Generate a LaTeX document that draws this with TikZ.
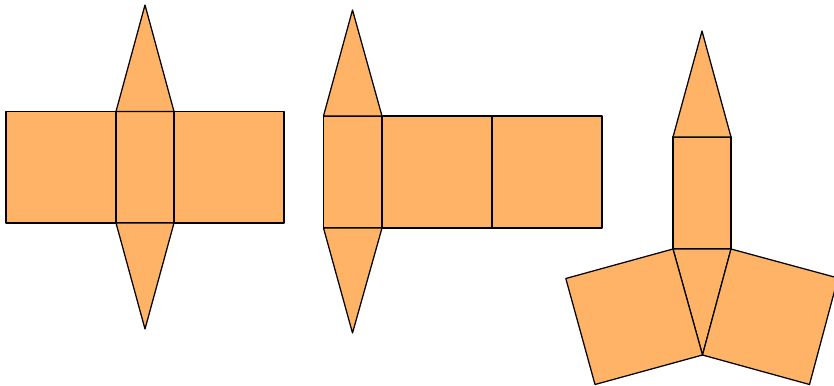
\documentclass[tikz,border=0pt]{standalone}
\usepackage{tikz}

\definecolor{netfill}{RGB}{255,179,102}

\begin{document}
\begin{tikzpicture}[
        x=1pt, y=-1pt,
        face/.style={draw=black, fill=netfill, line width=1.25pt, line join=round}
    ]
        \useasboundingbox (0,0) rectangle (834,385);

        % first net
        \draw[face] (6,111.5) rectangle (116,223);
        \draw[face] (116,111.5) rectangle (174,223);
        \draw[face] (174,111.5) rectangle (284,223);
        \draw[face] (116,111.5) -- (145,5) -- (174,111.5) -- cycle;
        \draw[face] (116,223) -- (145,329) -- (174,223) -- cycle;

        % second net
        \draw[face] (323.5,116) rectangle (382,228);
        \draw[face] (382,116) rectangle (492,228);
        \draw[face] (492,116) rectangle (602,228);
        \draw[face] (323.5,116) -- (352.5,10) -- (382,116) -- cycle;
        \draw[face] (323.5,228) -- (352.5,333) -- (382,228) -- cycle;

        % third net
        \draw[face] (673,137) rectangle (731,249);
        \draw[face] (673,137) -- (702,31) -- (731,137) -- cycle;
        \draw[face] (673,249) -- (731,249) -- (702.5,355) -- cycle;
        \draw[face] (673,249) -- (702.5,355) -- (595,384.5) -- (565.8,278.5) -- cycle;
        \draw[face] (731,249) -- (702.5,355) -- (809.5,384.5) -- (838,278) -- cycle;

\end{tikzpicture}
\end{document}
